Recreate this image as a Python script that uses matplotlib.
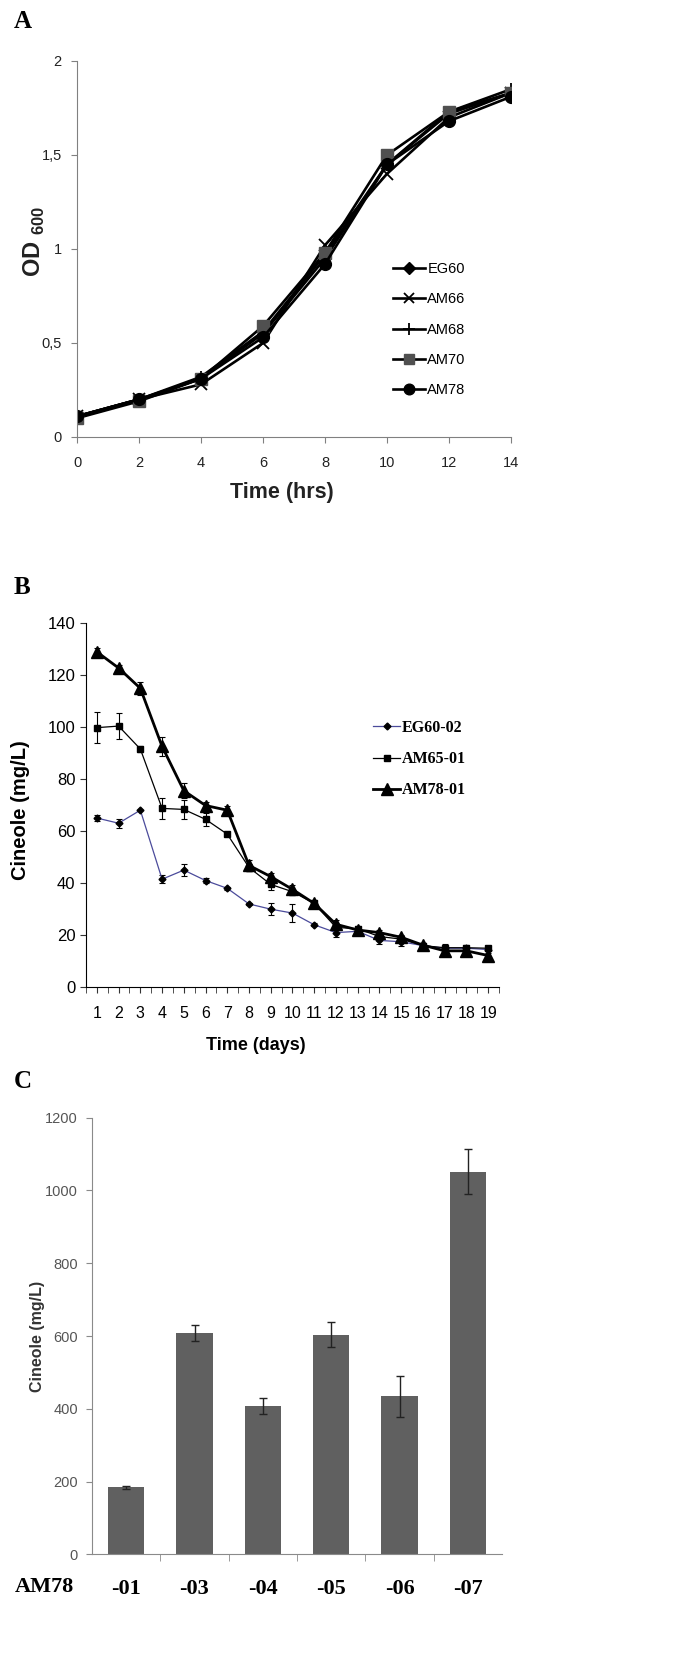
import matplotlib
matplotlib.use("Agg")
import matplotlib.pyplot as plt
from matplotlib.ticker import MultipleLocator

W, H = 685, 1671

plt.rcParams.update({
    "font.family": "Liberation Sans",
    "mathtext.fontset": "custom",
    "mathtext.bf": "Liberation Sans:bold",
    "mathtext.rm": "Liberation Sans",
})

# ---- panel A: growth curves ----
hours = [0, 2, 4, 6, 8, 10, 12, 14]
eg60_od = [0.11, 0.20, 0.31, 0.55, 0.95, 1.45, 1.72, 1.83]
am66_od = [0.11, 0.20, 0.28, 0.50, 1.02, 1.40, 1.70, 1.83]
am68_od = [0.11, 0.20, 0.32, 0.56, 0.97, 1.45, 1.73, 1.85]
am70_od = [0.10, 0.19, 0.31, 0.59, 0.98, 1.50, 1.73, 1.83]
am78_od = [0.11, 0.20, 0.31, 0.53, 0.92, 1.45, 1.68, 1.81]
od_ticks = [0, 0.5, 1, 1.5, 2]
od_ticklabels = ["0", "0,5", "1", "1,5", "2"]

# ---- panel B: cineole over days ----
days = list(range(1, 20))
eg60_cin = [65, 63, 68, 41.5, 45, 41, 38, 32, 30, 28.5, 24, 21, 21.5, 18, 17.5, 16, 15, 15, 14.5]
eg60_err = [1, 1.7, 0, 1.5, 2.2, 1, 0.7, 0.5, 2.2, 3.3, 0.5, 1.5, 0.5, 1.5, 1.5, 1, 1, 0.5, 0.5]
am65_cin = [99.7, 100.3, 91.5, 68.7, 68.3, 64.5, 58.8, 46, 39.5, 36.7, 32.2, 23, 22.5, 19.5, 18.5, 16, 15.2, 15.2, 15]
am65_err = [6, 5, 1, 4, 3.5, 2.5, 0.8, 1.5, 2, 1, 1, 1, 1, 1.5, 1, 1, 1.5, 1, 1]
am78_cin = [128.8, 122.6, 114.8, 92.5, 75.5, 69.8, 68, 46.8, 42.5, 37.6, 32.2, 24.2, 22, 21, 19.2, 16.2, 14, 14, 12.2]
am78_err = [1.5, 1, 2.5, 3.5, 3, 1.5, 1.5, 2, 1.5, 1.5, 1.5, 1.5, 1, 1, 1, 1, 1, 1, 1]

# ---- panel C: AM78 isolates ----
isolates = ["-01", "-03", "-04", "-05", "-06", "-07"]
isolate_cin = [184, 607, 408, 604, 434, 1052]
isolate_err = [5, 22, 22, 34, 56, 61]


def px_axes(fig, left, top, right, bottom):
    return fig.add_axes([left / W, 1 - bottom / H, (right - left) / W, (bottom - top) / H])


def panel_a(fig):
    ax = px_axes(fig, 77, 61, 511, 437)
    kw = dict(color="black", lw=1.9)
    ax.plot(hours, eg60_od, marker="D", ms=6.5, mfc="black", mec="black", label="EG60", **kw)
    ax.plot(hours, am66_od, marker="x", ms=8, mew=1.3, mec="black", label="AM66", **kw)
    ax.plot(hours, am68_od, marker="+", ms=9, mew=1.3, mec="black", label="AM68", **kw)
    ax.plot(hours, am70_od, marker="s", ms=8.5, mfc="#505050", mec="#505050", label="AM70", **kw)
    ax.plot(hours, am78_od, marker="o", ms=8.5, mfc="black", mec="black", label="AM78", **kw)
    ax.set_xlim(0, 14)
    ax.set_ylim(0, 2)
    ax.set_xticks(hours)
    ax.set_yticks(od_ticks, od_ticklabels)
    for s in ("top", "right"):
        ax.spines[s].set_visible(False)
    for s in ("left", "bottom"):
        ax.spines[s].set_color("#808080")
    ax.tick_params(direction="out", length=4, color="#808080", labelsize=10.5, labelcolor="#222222")
    ax.tick_params(axis="x", pad=10)
    ax.tick_params(axis="y", pad=7)
    ax.set_xlabel("Time (hrs)", fontsize=15.5, fontweight="bold", color="#222222")
    ax.xaxis.set_label_coords((282 - 77) / 434, -(482 - 437) / 376)
    ax.set_ylabel(r"OD $_{\mathbf{600}}$", fontsize=17, fontweight="bold", color="#222222")
    ax.yaxis.set_label_coords(-(77 - 47) / 434, 0.52)
    ax.legend(loc="upper left", bbox_to_anchor=(393 / W, 1 - 262 / H),
              bbox_transform=fig.transFigure, frameon=False, borderpad=0,
              borderaxespad=0, handlelength=2.2, handletextpad=0.15,
              labelspacing=1.12, fontsize=10.5, markerscale=0.9)


def panel_b(fig):
    ax = px_axes(fig, 86, 622.7, 499, 987.3)
    eb = dict(fmt="none", ecolor="black", elinewidth=0.8, capsize=2.5, capthick=0.8)
    ax.errorbar(days, eg60_cin, yerr=eg60_err, **eb)
    ax.errorbar(days, am65_cin, yerr=am65_err, **eb)
    ax.errorbar(days, am78_cin, yerr=am78_err, **eb)
    ax.plot(days, eg60_cin, color="#4b4b9b", lw=0.9, marker="D", ms=3.5,
            mfc="black", mec="black", label="EG60-02")
    ax.plot(days, am65_cin, color="black", lw=0.9, marker="s", ms=5, label="AM65-01")
    ax.plot(days, am78_cin, color="black", lw=2, marker="^", ms=8, label="AM78-01")
    ax.set_xlim(0.5, 19.5)
    ax.set_ylim(0, 140)
    ax.set_xticks(days)
    ax.xaxis.set_minor_locator(MultipleLocator(0.5))
    ax.set_yticks(range(0, 141, 20))
    for s in ("top", "right"):
        ax.spines[s].set_visible(False)
    ax.tick_params(which="both", direction="out", length=4.5, color="#333333")
    ax.tick_params(axis="y", labelsize=12, pad=3)
    ax.tick_params(axis="x", labelsize=11.5, pad=9)
    ax.set_xlabel("Time (days)", fontsize=13, fontweight="bold")
    ax.xaxis.set_label_coords((256 - 86) / 413, -(1037 - 987.3) / 364.6)
    ax.set_ylabel("Cineole (mg/L)", fontsize=14.5, fontweight="bold")
    ax.yaxis.set_label_coords(-(86 - 30) / 413, 0.485)
    ax.legend(loc="upper left", bbox_to_anchor=(373 / W, 1 - 720 / H),
              bbox_transform=fig.transFigure, frameon=False, borderpad=0,
              borderaxespad=0, handlelength=1.7, handletextpad=0.1,
              labelspacing=0.95,
              prop={"family": "Liberation Serif", "weight": "bold", "size": 11.5})


def panel_c(fig):
    ax = px_axes(fig, 92, 1117.7, 502, 1554.3)
    x = list(range(len(isolates)))
    ax.bar(x, isolate_cin, width=0.53, color="#606060", yerr=isolate_err,
           error_kw=dict(ecolor="#222222", elinewidth=1, capsize=3, capthick=1))
    ax.set_xlim(-0.5, len(isolates) - 0.5)
    ax.set_ylim(0, 1200)
    ax.set_yticks(range(0, 1201, 200))
    ax.set_xticks(x, isolates)
    ax.set_xticks([i + 0.5 for i in x[:-1]], minor=True)
    for s in ("top", "right"):
        ax.spines[s].set_visible(False)
    for s in ("left", "bottom"):
        ax.spines[s].set_color("#8a8a8a")
    ax.tick_params(axis="x", which="major", length=0, pad=18, labelsize=16)
    ax.tick_params(axis="x", which="minor", direction="out", length=5, color="#8a8a8a")
    ax.tick_params(axis="y", direction="out", length=4, color="#8a8a8a",
                   labelsize=10.5, labelcolor="#555555", pad=6)
    for lab in ax.get_xticklabels():
        lab.set_family("Liberation Serif")
        lab.set_fontweight("bold")
    ax.set_ylabel("Cineole (mg/L)", fontsize=11.5, fontweight="bold", color="#333333")
    ax.yaxis.set_label_coords(-(92 - 45) / 410, 0.5)
    fig.text(15 / W, 1 - 1587 / H, "AM78", family="Liberation Serif", weight="bold",
             fontsize=16, ha="left", va="center")


def main():
    fig = plt.figure(figsize=(W / 100, H / 100), dpi=100)
    panel_a(fig)
    panel_b(fig)
    panel_c(fig)
    for lab, y in (("A", 22), ("B", 588), ("C", 1082)):
        fig.text(14 / W, 1 - y / H, lab, family="Liberation Serif", weight="bold",
                 fontsize=18, ha="left", va="center")
    fig.savefig("out.png", dpi=100)


if __name__ == "__main__":
    main()
